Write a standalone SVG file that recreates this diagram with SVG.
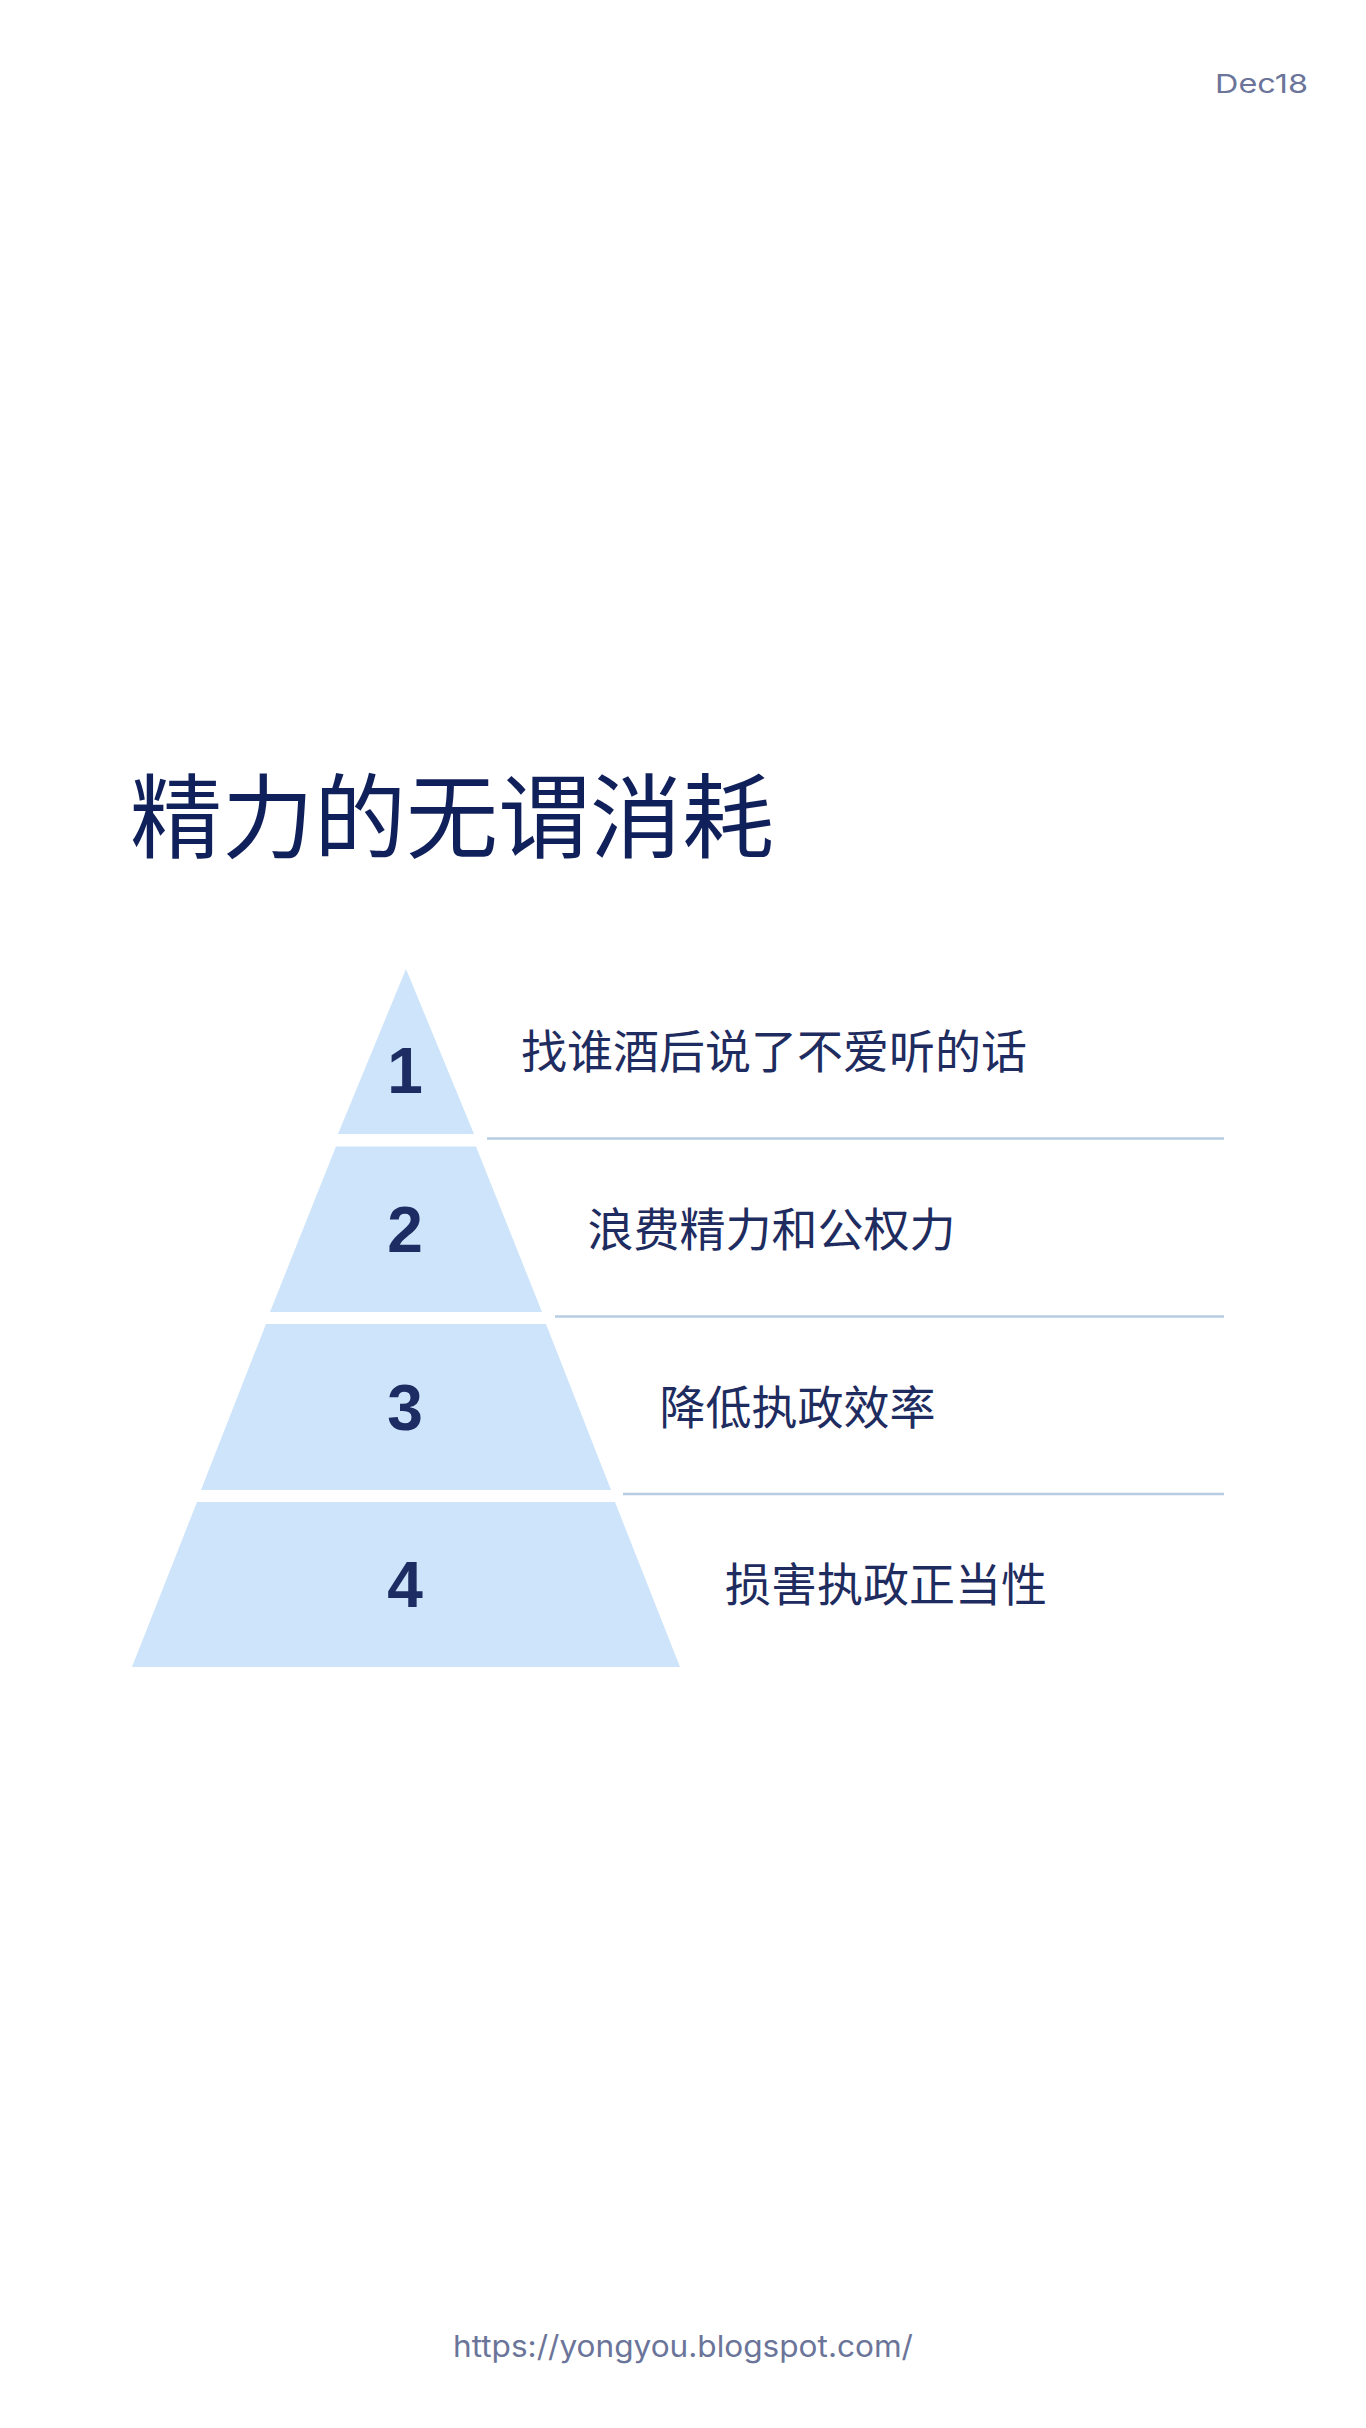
<svg xmlns="http://www.w3.org/2000/svg" width="1366" height="2428" viewBox="0 0 1366 2428">
<style>
.tier{fill:#cde4fa}
.num{font-family:"Liberation Sans",Arial,sans-serif;font-weight:bold;font-size:64px;fill:#1d2c62;text-anchor:middle}
.lbl{font-family:"Noto Sans CJK SC","Noto Sans",sans-serif;font-size:46px;fill:#1f2c5f}
.sep{stroke:#b6cce3;stroke-width:2.5;fill:none}
.meta{font-family:Inter,"Liberation Sans",sans-serif;fill:#6b7499}
</style>
<rect x="0" y="0" width="1366" height="2428" fill="#ffffff"/>
<g id="date"><text class="meta" x="1308" y="93" font-size="26" text-anchor="end" textLength="93" lengthAdjust="spacingAndGlyphs">Dec18</text></g>
<g id="title"><text x="130" y="851" font-family="'Noto Sans CJK SC','Noto Sans',sans-serif" font-size="92" font-weight="normal" fill="#10205a">精力的无谓消耗</text></g>
<g id="connectors">
<line class="sep" x1="487" y1="1138.5" x2="1224" y2="1138.5"/>
<line class="sep" x1="555" y1="1316.5" x2="1224" y2="1316.5"/>
<line class="sep" x1="623" y1="1494" x2="1224" y2="1494"/>
</g>
<g id="tier1">
<polygon class="tier" points="406,969 338,1134 474,1134"/>
<text class="num" x="405" y="1093">1</text>
<text class="lbl" x="521" y="1068">找谁酒后说了不爱听的话</text>
</g>
<g id="tier2">
<polygon class="tier" points="336,1146.5 476,1146.5 542,1312 270,1312"/>
<text class="num" x="405" y="1252">2</text>
<text class="lbl" x="587.5" y="1246">浪费精力和公权力</text>
</g>
<g id="tier3">
<polygon class="tier" points="266,1324 546,1324 611,1490 201,1490"/>
<text class="num" x="405" y="1430">3</text>
<text class="lbl" x="659.5" y="1424">降低执政效率</text>
</g>
<g id="tier4">
<polygon class="tier" points="197,1502 615,1502 680,1667 132,1667"/>
<text class="num" x="405" y="1607">4</text>
<text class="lbl" x="725" y="1601">损害执政正当性</text>
</g>
<g id="footer"><text class="meta" x="683" y="2357" font-size="30" text-anchor="middle" textLength="460" lengthAdjust="spacingAndGlyphs">https://yongyou.blogspot.com/</text></g>
</svg>
